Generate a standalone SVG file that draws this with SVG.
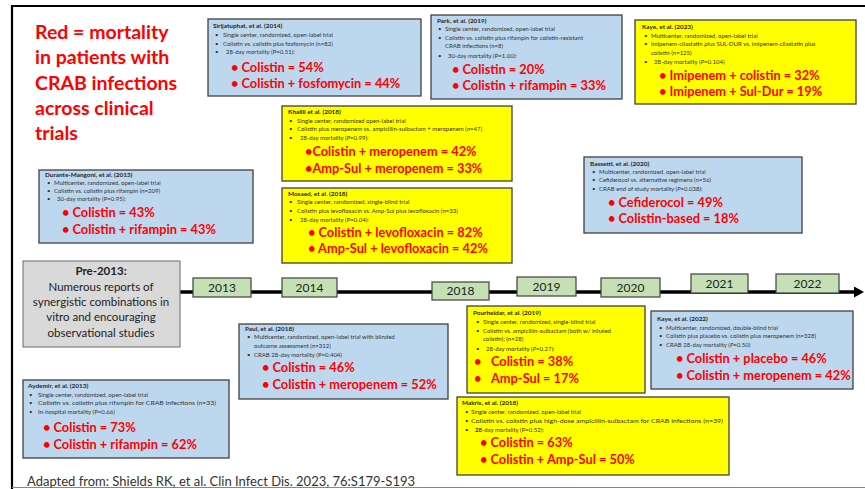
<svg xmlns="http://www.w3.org/2000/svg" width="865" height="489" viewBox="0 0 865 489">
<defs>
<marker id="arr" markerUnits="userSpaceOnUse" markerWidth="10" markerHeight="11" viewBox="0 0 10 11" refX="1" refY="5.5" orient="auto"><path d="M0,0 L10,5.5 L0,11z" fill="#000"/></marker>
</defs>
<style>
text{font-family:Lato,"Liberation Sans",sans-serif}
.bl{fill:#bdd7ee;stroke:#404040;stroke-width:1.3}
.yl{fill:#ffff00;stroke:#404040;stroke-width:1.3}
.gr{fill:#c5e0b4;stroke:#404040;stroke-width:1.2}
.gy{fill:#d9d9d9;stroke:#7f7f7f;stroke-width:1.2}
.t{font-size:6.4px;font-weight:700;fill:#262626}
.s{font-size:6px;fill:#333}
.r{font-size:12.8px;font-weight:700;fill:#ff0000}
.yr{font-size:12px;fill:#222;text-anchor:middle}
.big{font-size:19.5px;font-weight:700;fill:#ff0000}
.pre{font-size:11.5px;fill:#222;text-anchor:middle}
</style>
<rect width="865" height="489" fill="#fff"/>
<path d="M12,489 V6 H865" fill="none" stroke="#000" stroke-width="2.2"/>
<line x1="12" y1="487.5" x2="865" y2="487.5" stroke="#888" stroke-width="1"/>

<g id="legend">
<text class="big" x="35" y="39">Red = mortality</text>
<text class="big" x="35" y="64">in patients with</text>
<text class="big" x="35" y="90">CRAB infections</text>
<text class="big" x="35" y="115">across clinical</text>
<text class="big" x="35" y="140">trials</text>
</g>

<g id="connectors">
<line x1="180" y1="292" x2="855" y2="292" stroke="#000" stroke-width="3.5" marker-end="url(#arr)"/>
</g>

<g id="pre2013">
<rect class="gy" x="23" y="261" width="157" height="86"/>
<text class="pre" x="101" y="275" font-weight="700">Pre-2013:</text>
<text class="pre" x="101" y="291">Numerous reports of</text>
<text class="pre" x="101" y="306">synergistic combinations in</text>
<text class="pre" x="101" y="321">vitro and encouraging</text>
<text class="pre" x="101" y="337">observational studies</text>
</g>

<g id="y2013"><rect class="gr" x="193" y="278" width="58" height="19"/><text class="yr" x="222" y="292">2013</text></g>
<g id="y2014"><rect class="gr" x="282" y="278" width="55" height="19"/><text class="yr" x="309.5" y="292">2014</text></g>
<g id="y2018"><rect class="gr" x="432" y="282" width="57" height="18"/><text class="yr" x="460.5" y="295">2018</text></g>
<g id="y2019"><rect class="gr" x="517" y="277" width="59" height="19"/><text class="yr" x="546.5" y="291">2019</text></g>
<g id="y2020"><rect class="gr" x="601" y="278" width="59" height="19"/><text class="yr" x="630.5" y="292">2020</text></g>
<g id="y2021"><rect class="gr" x="691" y="274" width="57" height="19"/><text class="yr" x="719.5" y="288">2021</text></g>
<g id="y2022"><rect class="gr" x="776" y="274" width="63" height="19"/><text class="yr" x="807.5" y="288">2022</text></g>

<g id="sirijatuphat">
<rect class="bl" x="208" y="19" width="213" height="77"/>
<text class="t" x="213" y="28">Sirijatuphat, et al. (2014)</text>
<text class="s" x="215" y="37">•</text><text class="s" x="223" y="37">Single center, randomized, open-label trial</text>
<text class="s" x="215" y="46">•</text><text class="s" x="223" y="46">Colistin vs. colistin plus fosfomycin (n=82)</text>
<text class="s" x="215" y="54">•</text><text class="s" x="226" y="54">28-day mortality (P=0.51):</text>
<text class="r" x="231" y="72">• Colistin = 54%</text>
<text class="r" x="231" y="88">• Colistin + fosfomycin = 44%</text>
</g>

<g id="park">
<rect class="bl" x="431" y="15" width="191" height="84"/>
<text class="t" x="437" y="23">Park, et al. (2019)</text>
<text class="s" x="438" y="31">•</text><text class="s" x="445" y="31">Single center, randomized, open-label trial</text>
<text class="s" x="438" y="40">•</text><text class="s" x="445" y="40">Colistin vs. colistin plus rifampin for colistin-resistant</text>
<text class="s" x="445" y="48">CRAB infections (n=8)</text>
<text class="s" x="438" y="58">•</text><text class="s" x="448" y="58">30-day mortality (P=1.00):</text>
<text class="r" x="452" y="74">• Colistin = 20%</text>
<text class="r" x="452" y="90">• Colistin + rifampin = 33%</text>
</g>

<g id="kaye2023">
<rect class="yl" x="635" y="20" width="221" height="84"/>
<text class="t" x="642" y="29">Kaye, et al. (2023)</text>
<text class="s" x="644" y="38">•</text><text class="s" x="651" y="38">Multicenter, randomized, open-label trial</text>
<text class="s" x="644" y="46">•</text><text class="s" x="651" y="46">Imipenem-cilastatin plus SUL-DUR vs. imipenem-cilastatin plus</text>
<text class="s" x="651" y="55">colistin (n=125)</text>
<text class="s" x="644" y="64">•</text><text class="s" x="654" y="64">28-day mortality (<tspan font-style="italic">P</tspan>=0.104)</text>
<text class="r" x="659" y="80">• Imipenem + colistin = 32%</text>
<text class="r" x="659" y="96">• Imipenem + Sul-Dur = 19%</text>
</g>

<g id="khalili">
<rect class="yl" x="282" y="106" width="230" height="75"/>
<text class="t" x="288" y="114">Khalili et al. (2018)</text>
<text class="s" x="289" y="123">•</text><text class="s" x="297" y="123">Single center, randomized open-label trial</text>
<text class="s" x="289" y="131">•</text><text class="s" x="297" y="131">Colistin plus meropenem vs. ampicillin-sulbactam + meropenem (<tspan font-style="italic">n</tspan>=47)</text>
<text class="s" x="289" y="140">•</text><text class="s" x="300" y="140">28-day mortality (<tspan font-style="italic">P</tspan>=0.99):</text>
<text class="r" x="305" y="156">•Colistin + meropenem = 42%</text>
<text class="r" x="305" y="173">•Amp-Sul + meropenem = 33%</text>
</g>

<g id="mosaed">
<rect class="yl" x="282" y="188" width="230" height="75"/>
<text class="t" x="288" y="196">Mosaed, et al. (2018)</text>
<text class="s" x="289" y="204">•</text><text class="s" x="297" y="204">Single center, randomized, single-blind trial</text>
<text class="s" x="289" y="213">•</text><text class="s" x="297" y="213">Colistin plus levofloxacin vs. Amp-Sul plus levofloxacin (n=33)</text>
<text class="s" x="289" y="222">•</text><text class="s" x="300" y="222">28-day mortality (P=0.04):</text>
<text class="r" x="308" y="237">• Colistin + levofloxacin = 82%</text>
<text class="r" x="308" y="253">• Amp-Sul + levofloxacin = 42%</text>
</g>

<g id="durante">
<rect class="bl" x="39" y="170" width="214" height="73"/>
<text class="t" x="45" y="177">Durante-Mangoni, et al.  (2013)</text>
<text class="s" x="47" y="185">•</text><text class="s" x="54" y="185">Multicenter, randomized, open-label trial</text>
<text class="s" x="47" y="193">•</text><text class="s" x="54" y="193">Colistin vs. colistin plus rifampin (n=209)</text>
<text class="s" x="47" y="201">•</text><text class="s" x="57" y="201">30-day mortality (P=0.95):</text>
<text class="r" x="62" y="217">• Colistin = 43%</text>
<text class="r" x="62" y="234">• Colistin + rifampin = 43%</text>
</g>

<g id="bassetti">
<rect class="bl" x="584" y="157" width="218" height="76"/>
<text class="t" x="590" y="166">Bassetti, et al. (2020)</text>
<text class="s" x="592" y="174">•</text><text class="s" x="599" y="174">Multicenter, randomized, open-label trial</text>
<text class="s" x="592" y="182">•</text><text class="s" x="599" y="182">Cefiderocol vs. alternative regimens (n=56)</text>
<text class="s" x="592" y="191">•</text><text class="s" x="599" y="191">CRAB end of study mortality (<tspan font-style="italic">P</tspan>=0.038):</text>
<text class="r" x="608" y="207">• Cefiderocol = 49%</text>
<text class="r" x="608" y="223">• Colistin-based = 18%</text>
</g>

<g id="paul">
<rect class="bl" x="239" y="324" width="209" height="75"/>
<text class="t" x="245" y="331">Paul, et al. (2018)</text>
<text class="s" x="247" y="339">•</text><text class="s" x="254" y="339">Multicenter, randomized, open-label trial with blinded</text>
<text class="s" x="254" y="348">outcome assessment (n=312)</text>
<text class="s" x="247" y="357">•</text><text class="s" x="254" y="357">CRAB 28-day mortality (P=0.404)</text>
<text class="r" x="262" y="372">• Colistin = 46%</text>
<text class="r" x="262" y="389">• Colistin + meropenem = 52%</text>
</g>

<g id="pourheidar">
<rect class="yl" x="467" y="306" width="178" height="87"/>
<text class="t" x="473" y="315">Pourheidar, et al. (2019)</text>
<text class="s" x="476" y="324">•</text><text class="s" x="483" y="324">Single center, randomized, single-blind trial</text>
<text class="s" x="476" y="333">•</text><text class="s" x="483" y="333">Colistin vs. ampicillin-sulbactam (both w/ inhaled</text>
<text class="s" x="483" y="341">colistin); (n=28)</text>
<text class="s" x="476" y="351">•</text><text class="s" x="486" y="351">28-day mortality (<tspan font-style="italic">P</tspan>=0.27):</text>
<text class="r" x="474" y="366">•</text><text class="r" x="491" y="366">Colistin = 38%</text>
<text class="r" x="474" y="383">•</text><text class="r" x="491" y="383">Amp-Sul = 17%</text>
</g>

<g id="kaye2022">
<rect class="bl" x="651" y="311" width="202" height="78"/>
<text class="t" x="657" y="321">Kaye, et al. (2022)</text>
<text class="s" x="659" y="330">•</text><text class="s" x="666" y="330">Multicenter, randomized, double-blind trial</text>
<text class="s" x="659" y="338">•</text><text class="s" x="666" y="338">Colistin plus placebo vs. colistin plus meropenem (n=328)</text>
<text class="s" x="659" y="347">•</text><text class="s" x="666" y="347">CRAB 28-day mortality (<tspan font-style="italic">P</tspan>=0.50)</text>
<text class="r" x="676" y="363">• Colistin + placebo = 46%</text>
<text class="r" x="676" y="380">• Colistin + meropenem = 42%</text>
</g>

<g id="aydemir">
<rect class="bl" x="23" y="380" width="206" height="78"/>
<text class="t" x="28" y="388">Aydemir, et al. (2013)</text>
<text class="s" x="29" y="397">•</text><text class="s" x="38" y="397">Single center, randomized, open-label trial</text>
<text class="s" x="29" y="405">•</text><text class="s" x="38" y="405" textLength="178" lengthAdjust="spacingAndGlyphs">Colistin vs. colistin plus rifampin for CRAB infections (n=33)</text>
<text class="s" x="29" y="414">•</text><text class="s" x="38" y="414">In-hospital mortality (P=0.66)</text>
<text class="r" x="43" y="432">• Colistin = 73%</text>
<text class="r" x="43" y="449">• Colistin + rifampin = 62%</text>
</g>

<g id="makris">
<rect class="yl" x="457" y="397" width="272" height="78"/>
<text class="t" x="462" y="405">Makris, et al.  (2018)</text>
<text class="s" x="465" y="414">•</text><text class="s" x="471" y="414">Single center, randomized, open-label trial</text>
<text class="s" x="465" y="423">•</text><text class="s" x="471" y="423" textLength="252" lengthAdjust="spacingAndGlyphs">Colistin vs. colistin plus high-dose ampicillin-sulbactam for CRAB infections (n=39)</text>
<text class="s" x="465" y="432">•</text><text class="s" x="475" y="432"><tspan font-weight="700">28</tspan>-day mortality (P=0.52):</text>
<text class="r" x="480" y="447">• Colistin = 63%</text>
<text class="r" x="480" y="464">• Colistin + Amp-Sul = 50%</text>
</g>

<g id="source">
<text x="27" y="486" font-size="13px" fill="#333">Adapted from: Shields RK, et al. Clin Infect Dis. 2023, 76:S179-S193</text>
</g>
</svg>
